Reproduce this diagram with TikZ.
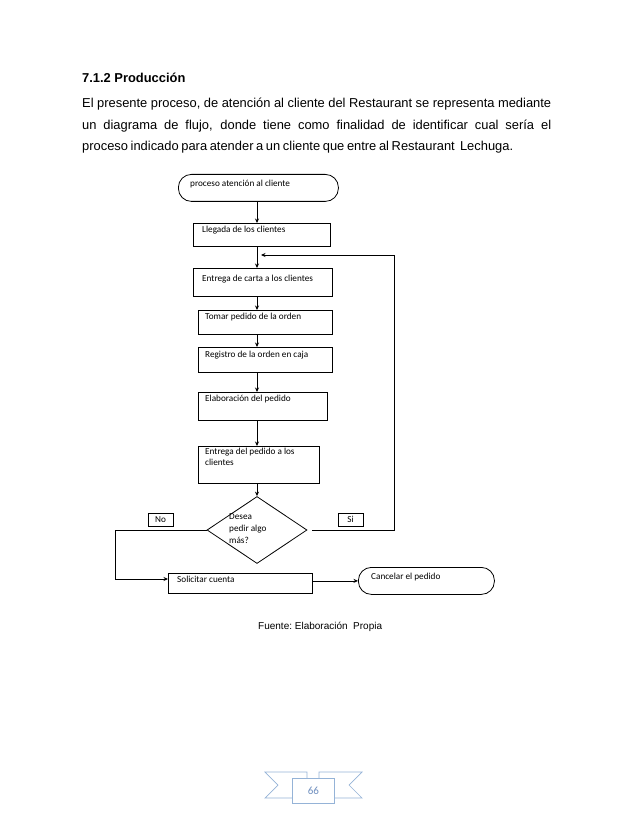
\documentclass[tikz,border=0pt]{standalone}
\usepackage{fontspec}
\setmainfont{Liberation Sans}
\newfontfamily\calfont{Carlito}
\usetikzlibrary{arrows.meta,shapes.geometric}
\definecolor{ribbon}{HTML}{95B3D7}
\definecolor{pnum}{HTML}{6F8FBF}
\begin{document}
\begin{tikzpicture}[x=1pt,y=-1pt,
  box/.style={draw, line width=0.8pt, rectangle, inner sep=0pt, anchor=north west},
  term/.style={draw, line width=0.8pt, rectangle, rounded corners=13pt, inner sep=0pt, anchor=north west},
  txt/.style={font=\calfont\fontsize{9.2}{11}\selectfont, inner sep=0pt, anchor=west, align=left},
  flow/.style={line width=0.8pt, -{Stealth[length=4.5pt,width=4pt]}},
  line/.style={line width=0.8pt},
  body/.style={font=\fontsize{12.9}{21.5}\selectfont, inner sep=0pt, anchor=base west}]
\useasboundingbox (0,0) rectangle (638,826);
% heading and paragraph
\node[body, font=\bfseries\fontsize{12.9}{21.5}\selectfont] (head) at (82,83) {7.1.2 Producción};
\node[body] (p1) at (82,108) {\makebox[469pt][s]{El presente proceso, de atención al cliente del Restaurant se representa mediante}};
\node[body] (p2) at (82,129.5) {\makebox[469pt][s]{un diagrama de flujo, donde tiene como finalidad de identificar cual sería el}};
\node[body] (p3) at (82,151) {\makebox[431pt][s]{proceso indicado para atender a un cliente que entre al Restaurant\ \ Lechuga.}};
% column coordinate
\coordinate (col) at (257,0);
% shapes
\node[term, minimum width=160pt, minimum height=27pt] (start) at (178,174) {};
\node[txt] (tstart) at (190,184.5) {proceso atención al cliente};
\node[box, minimum width=137pt, minimum height=23pt] (b1) at (193,223) {};
\node[txt] (t1) at (202,230.5) {Llegada de los clientes};
\node[box, minimum width=139pt, minimum height=28pt] (b2) at (193,268) {};
\node[txt] (t2) at (202,279.5) {Entrega de carta a los clientes};
\node[box, minimum width=134pt, minimum height=24pt] (b3) at (198,310) {};
\node[txt] (t3) at (205,317.5) {Tomar pedido de la orden};
\node[box, minimum width=134pt, minimum height=25pt] (b4) at (198,347) {};
\node[txt] (t4) at (205,355.5) {Registro de la orden en caja};
\node[box, minimum width=129pt, minimum height=28pt] (b5) at (198,392) {};
\node[txt] (t5) at (205,399.5) {Elaboración del pedido};
\node[box, minimum width=121pt, minimum height=37pt] (b6) at (198,446) {};
\node[txt, anchor=north west, font=\calfont\fontsize{9.2}{10.5}\selectfont] (t6) at (205,448) {Entrega del pedido a los\\clientes};
\node[draw, line width=0.8pt, diamond, inner sep=0pt, minimum width=100pt, minimum height=67pt] (d) at (257,530) {};
\node[txt, anchor=north west, font=\calfont\fontsize{9.2}{12}\selectfont] (td) at (229,513) {Desea\\pedir algo\\más?};
\node[box, line width=0.6pt, minimum width=25pt, minimum height=13pt] (no) at (148,513) {};
\node[txt, anchor=center] (tno) at (160.5,519.5) {No};
\node[box, line width=0.6pt, minimum width=25pt, minimum height=13pt] (si) at (338,513) {};
\node[txt, anchor=center] (tsi) at (350.5,519.5) {Si};
\node[box, minimum width=144pt, minimum height=20pt] (b7) at (168,573) {};
\node[txt] (t7) at (177,579.5) {Solicitar cuenta};
\node[term, minimum width=136pt, minimum height=27pt] (end) at (358,567) {};
\node[txt] (tend) at (371,577.5) {Cancelar el pedido};
% connectors
\coordinate (join) at (257,255);
\coordinate (rtop) at (394,255);
\coordinate (rbot) at (394,530);
\coordinate (lbot) at (115,579);
\coordinate (ltop) at (115,530);
\draw[flow] (start.south -| col) -- (b1.north -| col);
\draw[line] (b1.south -| col) -- (join);
\draw[flow] (join) -- (b2.north -| col);
\draw[flow] (b2.south -| col) -- (b3.north -| col);
\draw[flow] (b3.south -| col) -- (b4.north -| col);
\draw[flow] (b4.south -| col) -- (b5.north -| col);
\draw[flow] (b5.south -| col) -- (b6.north -| col);
\draw[flow] (b6.south -| col) -- (d.north);
\draw[flow] ([xshift=5pt]d.east) -- (rbot) -- (rtop) -- ([xshift=4pt]join);
\draw[flow] (d.west) -- (ltop) -- (lbot) -- (b7.west |- lbot);
\draw[flow] (b7.east |- end.west) -- (end.west);
% footer
\node[font=\fontsize{10}{12}\selectfont, inner sep=0pt, anchor=base west] (fuente) at (258,629) {Fuente:\ Elaboración\ \ Propia};
% page ribbon
\draw[ribbon, line width=0.7pt, fill=white] (307,778) -- (307,772) -- (265,772) -- (278,785) -- (265,798) -- (292,798);
\draw[ribbon, line width=0.7pt, fill=white] (319,778) -- (319,772) -- (362,772) -- (349,785) -- (362,798) -- (334,798);
\draw[ribbon, line width=0.7pt] (292,798) -- (292,795) -- (307,795) -- (307,778);
\draw[ribbon, line width=0.7pt] (334,798) -- (334,795) -- (319,795) -- (319,778);
\node[draw=ribbon, line width=0.7pt, fill=white, inner sep=0pt, minimum width=42pt, minimum height=25pt, anchor=north west, font=\calfont\fontsize{11}{13}\selectfont, text=pnum] (page) at (292,778) {66};
\end{tikzpicture}
\end{document}
